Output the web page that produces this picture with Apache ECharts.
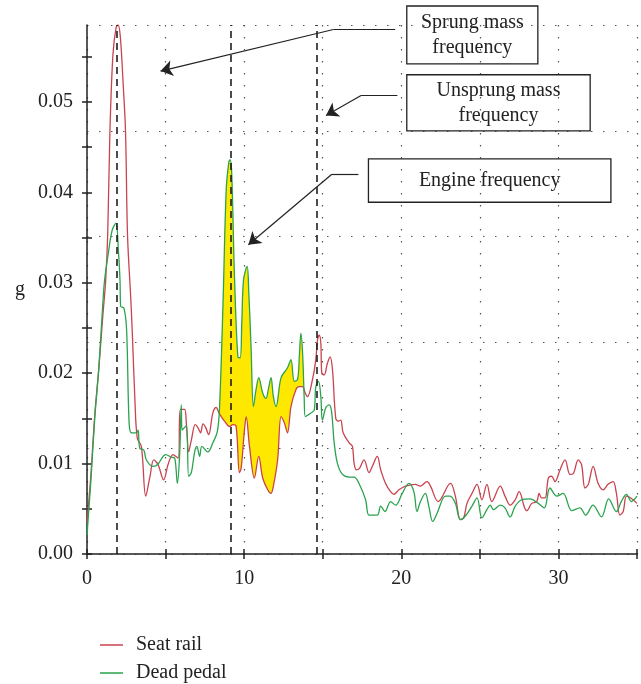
<!DOCTYPE html>
<html>
<head>
<meta charset="utf-8">
<script src="https://cdn.jsdelivr.net/npm/echarts@6/dist/echarts.min.js"></script>
<style>
html, body { margin: 0; padding: 0; background: #fff; }
#main { width: 641px; height: 684px; }
</style>
</head>
<body>
<div id="main"></div>
<script>
// seat rail spectrum (Hz, g)
var redHz = [0, 0.25, 0.5, 0.75, 1.0, 1.19, 1.32, 1.46, 1.65, 1.85, 1.98, 2.12, 2.3, 2.45, 2.58, 2.79, 2.9, 3.05, 3.2, 3.46,
    3.74, 4.0, 4.25, 4.52, 4.88, 5.16, 5.47, 5.8, 5.94, 6.21, 6.32, 6.47, 6.64, 6.89, 7.05, 7.23, 7.38, 7.55, 7.74, 8.01,
    8.22, 8.4, 8.54, 8.75, 9.07, 9.28, 9.49, 9.7, 9.81, 10.02, 10.13, 10.34, 10.65, 10.93, 11.18, 11.5, 11.71, 11.86, 12.13, 12.35,
    12.56, 12.76, 12.98, 13.3, 13.51, 13.72, 13.89, 14.03, 14.35, 14.56, 14.67, 14.78, 14.88, 14.94, 15.09, 15.3, 15.47, 15.62, 15.83, 16.0,
    16.15, 16.3, 16.68, 16.89, 17.0, 17.15, 17.35, 17.63, 17.95, 18.16, 18.47, 18.69, 19.0, 19.32, 19.53, 19.85, 20.27, 20.9, 21.2, 21.64,
    21.86, 22.35, 23.13, 23.44, 23.76, 23.97, 24.18, 24.5, 24.82, 25.13, 25.45, 25.76, 26.3, 26.6, 26.93, 27.25, 27.5, 27.85, 28.0, 28.3,
    28.62, 28.77, 28.93, 29.15, 29.36, 29.57, 29.78, 30.1, 30.42, 30.74, 30.95, 31.26, 31.47, 31.69, 31.9, 32.21, 32.53, 32.85, 33.16, 33.48,
    33.69, 33.91, 34.12, 34.33, 34.6, 35];
var redG = [0.0035, 0.0088, 0.0155, 0.0205, 0.0262, 0.0303, 0.0355, 0.0468, 0.0552, 0.0582, 0.0585, 0.0572, 0.052, 0.0468, 0.0352, 0.0281, 0.0237, 0.017, 0.0128, 0.0119,
    0.0064, 0.0085, 0.0104, 0.0099, 0.0082, 0.0099, 0.011, 0.0106, 0.016, 0.016, 0.0145, 0.0113, 0.0126, 0.0143, 0.014, 0.0134, 0.0144, 0.014, 0.0132, 0.0156,
    0.0162, 0.0156, 0.0152, 0.0147, 0.0141, 0.0143, 0.0141, 0.009, 0.0095, 0.0137, 0.0152, 0.0119, 0.0084, 0.0108, 0.0084, 0.0071, 0.0067, 0.0075, 0.0104, 0.0152,
    0.0145, 0.0134, 0.0163, 0.0182, 0.0185, 0.0185, 0.0178, 0.0174, 0.0193, 0.0215, 0.0237, 0.0242, 0.0233, 0.02, 0.0198, 0.0211, 0.0218, 0.0204, 0.015, 0.0147,
    0.0148, 0.0134, 0.0123, 0.0119, 0.01, 0.0093, 0.0095, 0.0104, 0.009, 0.0097, 0.0108, 0.0093, 0.0078, 0.0069, 0.0066, 0.0071, 0.0075, 0.0077, 0.0075, 0.008,
    0.0075, 0.0058, 0.0078, 0.0064, 0.0038, 0.004, 0.0056, 0.0067, 0.0077, 0.006, 0.0077, 0.0058, 0.0075, 0.0064, 0.0054, 0.006, 0.0069, 0.0051, 0.0048, 0.0056,
    0.0058, 0.0067, 0.0062, 0.0062, 0.0084, 0.0086, 0.008, 0.0093, 0.0104, 0.0088, 0.0089, 0.0104, 0.0099, 0.0073, 0.0077, 0.0097, 0.0078, 0.0071, 0.0077, 0.008,
    0.0067, 0.0043, 0.0047, 0.0064, 0.0062, 0.0056];

// dead pedal spectrum (Hz, g)
var greenHz = [0, 0.25, 0.5, 0.75, 1.0, 1.12, 1.36, 1.6, 1.84, 2.0, 2.1, 2.14, 2.35, 2.52, 2.68, 2.83, 3.15, 3.25, 3.36, 3.61,
    3.78, 4.2, 4.5, 4.84, 5.0, 5.37, 5.58, 5.75, 5.9, 6.0, 6.05, 6.32, 6.47, 6.64, 6.85, 6.99, 7.17, 7.31, 7.69, 8.01,
    8.29, 8.43, 8.65, 8.86, 9.03, 9.11, 9.21, 9.38, 9.6, 9.75, 9.85, 9.96, 10.19, 10.29, 10.44, 10.59, 10.76, 10.93, 11.18, 11.39,
    11.54, 11.71, 11.86, 12.03, 12.35, 12.76, 12.98, 13.19, 13.4, 13.51, 13.61, 13.72, 13.82, 13.89, 14.25, 14.46, 14.56, 14.73, 14.88, 14.98,
    15.2, 15.41, 15.56, 15.73, 15.94, 16.26, 16.68, 17.0, 17.31, 17.73, 17.95, 18.47, 18.69, 18.96, 19.32, 19.64, 20.06, 20.48, 20.8, 21.0,
    21.22, 21.53, 21.75, 22.0, 22.28, 22.81, 23.1, 23.44, 23.76, 24.08, 24.5, 24.82, 25.13, 25.45, 25.66, 25.87, 26.3, 26.6, 26.93, 27.25,
    27.67, 28.2, 28.72, 29.1, 29.46, 29.9, 30.3, 30.85, 31.37, 31.73, 32.2, 32.74, 33.2, 33.69, 34.0, 34.33, 34.64, 35];
var greenG = [0.0021, 0.0082, 0.0152, 0.0205, 0.0275, 0.0303, 0.0333, 0.0358, 0.0366, 0.0335, 0.0303, 0.0274, 0.0272, 0.0248, 0.0145, 0.0134, 0.0134, 0.0137, 0.0117, 0.0115,
    0.0104, 0.0097, 0.0099, 0.0108, 0.011, 0.0107, 0.0106, 0.0078, 0.0112, 0.0165, 0.0137, 0.0142, 0.0086, 0.009, 0.0113, 0.0119, 0.0108, 0.0119, 0.0113, 0.0123,
    0.0135, 0.016, 0.0274, 0.0403, 0.0434, 0.0436, 0.0421, 0.031, 0.0218, 0.0217, 0.0255, 0.0303, 0.0318, 0.0292, 0.0229, 0.0163, 0.0182, 0.0195, 0.0178, 0.0172,
    0.0182, 0.0195, 0.0174, 0.0163, 0.0195, 0.0206, 0.0215, 0.0191, 0.0193, 0.0218, 0.0244, 0.0222, 0.0174, 0.0152, 0.0156, 0.0159, 0.0185, 0.0191, 0.0174, 0.0148,
    0.0162, 0.0165, 0.0158, 0.0123, 0.01, 0.0088, 0.0085, 0.0085, 0.0078, 0.006, 0.0043, 0.0043, 0.0053, 0.0047, 0.0058, 0.0054, 0.0067, 0.0078, 0.0069, 0.0047,
    0.0058, 0.0067, 0.0053, 0.0036, 0.0045, 0.0064, 0.0064, 0.0056, 0.0038, 0.0042, 0.0053, 0.0062, 0.004, 0.0049, 0.0054, 0.0049, 0.0054, 0.0051, 0.0041, 0.0053,
    0.006, 0.0061, 0.0056, 0.0051, 0.0073, 0.0064, 0.0067, 0.0048, 0.0051, 0.0043, 0.0054, 0.0041, 0.0061, 0.0047, 0.0058, 0.0066, 0.0058, 0.0064];

var seriesNames = ['Seat rail', 'Dead pedal'];
var markerHz = [1.92, 9.17, 14.63];     // dashed frequency markers
var fillRange = [8.4, 13.82];           // yellow band, dead pedal above seat rail

var xMax = 35;
var yMax = 0.0585;
var xTicks = [0, 5, 10, 15, 20, 25, 30, 35];
var xLabels = [0, 10, 20, 30];
var yTicks = [0, 0.005, 0.01, 0.015, 0.02, 0.025, 0.03, 0.035, 0.04, 0.045, 0.05, 0.055];
var yLabels = [0, 0.01, 0.02, 0.03, 0.04, 0.05];

// annotation boxes and leader lines, in data units
var notes = [
    {text: 'Sprung mass\nfrequency', box: [20.35, 0.0606, 28.69, 0.0542],
        path: [[19.61, 0.058], [15.68, 0.058], [4.68, 0.0534]]},
    {text: 'Unsprung mass\nfrequency', box: [20.35, 0.053, 32.02, 0.0468],
        path: [[19.75, 0.0507], [17.44, 0.0507], [15.21, 0.0485]]},
    {text: 'Engine frequency', box: [17.91, 0.0437, 33.34, 0.0389],
        path: [[17.27, 0.042], [15.58, 0.042], [10.27, 0.0342]]}
];

var FONT = 'Liberation Serif';
var INK = '#222';
var RED = '#c8434f';
var GREEN = '#2aa34e';

function pairs(xs, ys) {
    var out = [];
    for (var i = 0; i < xs.length; i++) out.push([xs[i], ys[i]]);
    return out;
}

function renderFill(params, api) {
    var pts = [];
    for (var i = 0; i < greenHz.length; i++) {
        if (greenHz[i] >= fillRange[0] && greenHz[i] <= fillRange[1]) pts.push(api.coord([greenHz[i], greenG[i]]));
    }
    for (var j = redHz.length - 1; j >= 0; j--) {
        if (redHz[j] >= fillRange[0] && redHz[j] <= fillRange[1]) pts.push(api.coord([redHz[j], redG[j]]));
    }
    return {type: 'polygon', shape: {points: pts, smooth: 0.35}, style: {fill: '#ffe800'}};
}

var arrowLines = [];
notes.forEach(function (n) {
    arrowLines.push([{coord: n.path[0], symbol: 'none'}, {coord: n.path[1], symbol: 'none'}]);
    arrowLines.push([{coord: n.path[1], symbol: 'none'}, {coord: n.path[2], symbol: 'arrow'}]);
});

var chart = echarts.init(document.getElementById('main'));

var option = {
    animation: false,
    backgroundColor: '#fff',
    textStyle: {fontFamily: FONT},
    grid: {left: 87, right: 4, top: 25, bottom: 130},
    legend: {
        data: seriesNames,
        orient: 'vertical',
        left: 100,
        top: 635,
        padding: 0,
        icon: 'rect',
        itemWidth: 23,
        itemHeight: 1.5,
        itemGap: 8,
        textStyle: {fontFamily: FONT, fontSize: 20, color: INK, padding: [0, 0, 0, 8]}
    },
    xAxis: [{
        type: 'value', position: 'bottom', min: 0, max: xMax, interval: 5,
        axisLine: {lineStyle: {color: INK, width: 1.5}},
        axisTick: {length: 5, lineStyle: {color: INK, width: 1.5}, customValues: xTicks},
        axisLabel: {fontFamily: FONT, fontSize: 20, color: INK, margin: 15, customValues: xLabels},
        splitLine: {show: true, lineStyle: {color: '#555', type: [1.5, 10.5], width: 1.2}}
    }, {
        type: 'value', position: 'bottom', min: 0, max: xMax, interval: 5,
        axisLine: {show: false},
        axisTick: {inside: true, length: 5, lineStyle: {color: INK, width: 1.5}, customValues: xTicks},
        axisLabel: {show: false},
        splitLine: {show: false}
    }],
    yAxis: [{
        type: 'value', position: 'left', min: 0, max: yMax, interval: 0.005,
        name: 'g', nameLocation: 'middle', nameRotate: 0, nameGap: 67,
        nameTextStyle: {fontFamily: FONT, fontSize: 20, color: INK, align: 'center'},
        axisLine: {show: true, lineStyle: {color: INK, width: 1.5}},
        axisTick: {show: true, length: 5, lineStyle: {color: INK, width: 1.5}, customValues: yTicks},
        axisLabel: {fontFamily: FONT, fontSize: 20, color: INK, margin: 14, customValues: yLabels,
            formatter: function (v) { return v.toFixed(2); }},
        splitLine: {show: false}
    }, {
        type: 'value', position: 'left', min: 0, max: yMax, interval: 0.005,
        axisLine: {show: false},
        axisTick: {show: true, inside: true, length: 5, lineStyle: {color: INK, width: 1.5}, customValues: yTicks},
        axisLabel: {show: false},
        splitLine: {show: false}
    }, {
        type: 'value', position: 'left', min: 0, max: yMax, interval: yMax / 5,
        axisLine: {show: false}, axisTick: {show: false}, axisLabel: {show: false},
        splitLine: {show: true, lineStyle: {color: '#555', type: [1.5, 10.5], width: 1.2}}
    }],
    series: [{
        type: 'custom',
        name: 'fill',
        renderItem: renderFill,
        data: [[fillRange[0], 0]],
        z: 1,
        silent: true
    }, {
        type: 'line',
        name: seriesNames[0],
        data: pairs(redHz, redG),
        smooth: 0.35,
        symbol: 'none',
        color: RED,
        lineStyle: {color: RED, width: 1.3},
        z: 3,
        markLine: {
            silent: true,
            symbol: ['none', 'none'],
            label: {show: false},
            lineStyle: {color: '#111', type: [7, 5], width: 1.5},
            data: markerHz.map(function (f) { return {xAxis: f}; })
        }
    }, {
        type: 'line',
        name: seriesNames[1],
        data: pairs(greenHz, greenG),
        smooth: 0.35,
        symbol: 'none',
        color: GREEN,
        lineStyle: {color: GREEN, width: 1.3},
        z: 3,
        markLine: {
            silent: true,
            symbol: ['none', 'arrow'],
            symbolSize: 12,
            label: {show: false},
            lineStyle: {color: INK, type: 'solid', width: 1.2},
            data: arrowLines
        }
    }]
};

chart.setOption(option);

// boxes round the annotation texts
var boxes = [];
notes.forEach(function (n) {
    var a = chart.convertToPixel({xAxisIndex: 0, yAxisIndex: 0}, [n.box[0], n.box[1]]);
    var b = chart.convertToPixel({xAxisIndex: 0, yAxisIndex: 0}, [n.box[2], n.box[3]]);
    boxes.push({
        type: 'rect', z: 20,
        shape: {x: a[0], y: a[1], width: b[0] - a[0], height: b[1] - a[1]},
        style: {fill: 'none', stroke: INK, lineWidth: 1.3}
    });
    boxes.push({
        type: 'text', z: 21,
        x: (a[0] + b[0]) / 2, y: (a[1] + b[1]) / 2,
        style: {text: n.text, font: '20px "' + FONT + '"', fill: INK, align: 'center', verticalAlign: 'middle', lineHeight: 25}
    });
});
chart.setOption({graphic: boxes});

window.addEventListener('resize', function () { chart.resize(); });
</script>
</body>
</html>
